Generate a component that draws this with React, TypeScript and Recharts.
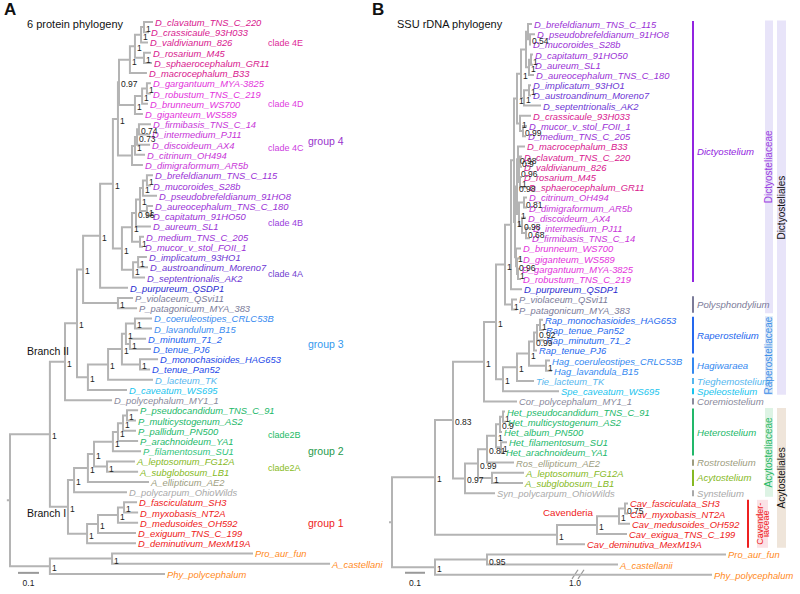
import React from "react";
import {
  ComposedChart,
  XAxis,
  YAxis,
  Line,
  Scatter,
  ReferenceLine,
  ReferenceArea,
} from "recharts";

const FONT = '"Liberation Sans", Arial, Helvetica, sans-serif';
const BRANCH = "#b4b4b4";

type Ref = number | string;
// [node id, upper child, lower child, depth (subst./site), support]
type NodeRow = [string, Ref, Ref, number, string];

// ---------- panel A : 6 protein phylogeny ----------
const leftNames = [
  "D_clavatum_TNS_C_220", "D_crassicaule_93H033", "D_valdivianum_826", "D_rosarium_M45",
  "D_sphaerocephalum_GR11", "D_macrocephalum_B33", "D_gargantuum_MYA-3825", "D_robustum_TNS_C_219",
  "D_brunneum_WS700", "D_giganteum_WS589", "D_firmibasis_TNS_C_14", "D_intermedium_PJ11",
  "D_discoideum_AX4", "D_citrinum_OH494", "D_dimigraformum_AR5b", "D_brefeldianum_TNS_C_115",
  "D_mucoroides_S28b", "D_pseudobrefeldianum_91HO8", "D_aureocephalum_TNS_C_180", "D_capitatum_91HO50",
  "D_aureum_SL1", "D_medium_TNS_C_205", "D_mucor_v_stol_FOII_1", "D_implicatum_93HO1",
  "D_austroandinum_Moreno7", "D_septentrionalis_AK2", "D_purpureum_QSDP1", "P_violaceum_QSvi11",
  "P_patagonicum_MYA_383", "D_coeruleostipes_CRLC53B", "D_lavandulum_B15", "D_minutum_71_2",
  "D_tenue_PJ6", "D_monochasioides_HAG653", "D_tenue_Pan52", "D_lacteum_TK",
  "D_caveatum_WS695", "D_polycephalum_MY1_1", "P_pseudocandidum_TNS_C_91", "P_multicystogenum_AS2",
  "P_pallidum_PN500", "P_arachnoideum_YA1", "P_filamentosum_SU1", "A_leptosomum_FG12A",
  "A_subglobosum_LB1", "A_ellipticum_AE2", "D_polycarpum_OhioWilds", "D_fasciculatum_SH3",
  "D_myxobasis_NT2A", "D_medusoides_OH592", "D_exiguum_TNS_C_199", "D_deminutivum_MexM19A",
  "Pro_aur_fun", "A_castellani", "Phy_polycephalum",
];
const leftGroups = [
  "4E", "4E", "4E", "4E", "4E", "4E", "4D", "4D", "4D", "4D",
  "4C", "4C", "4C", "4C", "4C", "4B", "4B", "4B", "4B", "4B",
  "4B", "4B", "4B", "4A", "4A", "4A", "pur", "poly", "poly", "g3a",
  "g3a", "g3b", "g3b", "g3c", "g3c", "lac", "cav", "cor", "2B", "2B",
  "2B", "2B", "fil", "2A", "2A", "ell", "syn", "g1", "g1", "g1",
  "g1", "g1", "out", "out", "out",
];
const leftTips = [
  0.681, 0.662, 0.657, 0.671, 0.676, 0.652, 0.671, 0.671, 0.657, 0.633,
  0.671, 0.667, 0.667, 0.643, 0.633, 0.681, 0.671, 0.7, 0.681, 0.671,
  0.671, 0.638, 0.633, 0.652, 0.657, 0.643, 0.562, 0.586, 0.605, 0.676,
  0.676, 0.648, 0.671, 0.705, 0.667, 0.681, 0.557, 0.486, 0.61, 0.6,
  0.6, 0.61, 0.624, 0.595, 0.61, 0.662, 0.557, 0.605, 0.61, 0.61,
  0.6, 0.6, 1.157, 1.524, 0.738,
];
const leftNodes: NodeRow[] = [
  ["L1", 0, 1, 0.638, "1"], ["L2", "L1", 2, 0.624, "1"], ["L3", 3, 4, 0.638, "1"],
  ["L4", "L2", "L3", 0.595, "1"], ["L5", "L4", 5, 0.571, "1"], ["L6", 6, 7, 0.652, "1"],
  ["L7", "L6", 8, 0.629, "1"], ["L8", "L7", 9, 0.595, "1"], ["L9", "L5", "L8", 0.519, "0.97"],
  ["L10", 10, 11, 0.614, "0.74"], ["L11", "L10", 12, 0.605, "0.73"], ["L12", "L11", 13, 0.595, "1"],
  ["L13", "L12", 14, 0.581, ""], ["L14", "L9", "L13", 0.514, "1"], ["L15", 15, 16, 0.652, "1"],
  ["L16", "L15", 17, 0.633, "1"], ["L17", 18, 19, 0.652, "1"], ["L18", "L16", "L17", 0.619, "1"],
  ["L19", "L18", 20, 0.6, "0.96"], ["L20", 21, 22, 0.619, "1"], ["L21", "L19", "L20", 0.581, "1"],
  ["L22", 23, 24, 0.61, "1"], ["L23", "L22", 25, 0.586, "1"], ["L24", "L21", "L23", 0.533, "1"],
  ["L25", "L14", "L24", 0.49, "1"], ["L26", "L25", 26, 0.429, "1"], ["L27", 27, 28, 0.514, "1"],
  ["L28", "L26", "L27", 0.348, "1"], ["L29", 29, 30, 0.595, "1"], ["L30", 31, 32, 0.571, "1"],
  ["L31", "L29", "L30", 0.552, "1"], ["L32", 33, 34, 0.619, "1"], ["L33", "L31", "L32", 0.533, "1"],
  ["L34", "L33", 35, 0.467, "1"], ["L35", "L34", 36, 0.371, "1"], ["L36", "L28", "L35", 0.319, "1"],
  ["L37", "L36", 37, 0.262, "1"], ["L38", 38, 39, 0.557, "1"], ["L39", "L38", 40, 0.538, "1"],
  ["L40", "L39", 41, 0.514, "1"], ["L41", "L40", 42, 0.49, "1"], ["L42", 43, 44, 0.462, "1"],
  ["L43", "L41", "L42", 0.4, "1"], ["L44", "L43", 45, 0.371, "1"], ["L45", "L44", 46, 0.305, "1"],
  ["L46", 47, 48, 0.543, "1"], ["L47", "L46", 49, 0.514, "1"], ["L48", "L47", 50, 0.419, "1"],
  ["L49", "L48", 51, 0.367, "1"], ["L50", "L45", "L49", 0.276, "1"], ["L51", "L37", "L50", 0.19, "1"],
  ["L52", 52, 53, 0.486, "1"], ["L53", "L52", 54, 0.19, "1"], ["root", "L51", "L53", 0, ""],
];
// [text, depth, row, style]
const leftNotes: [string, number, number, string][] = [
  ["clade 4E", 1.229, 2.05, "c4E"], ["clade 4D", 1.229, 8.0, "c4D"], ["group 4", 1.419, 11.6, "grp4"],
  ["clade 4C", 1.229, 12.3, "c4C"], ["clade 4B", 1.229, 19.7, "c4B"], ["clade 4A", 1.229, 24.7, "c4A"],
  ["group 3", 1.419, 31.5, "grp3"], ["clade2B", 1.229, 40.4, "c2B"], ["group 2", 1.419, 42.0, "grp2"],
  ["clade2A", 1.229, 43.6, "c2A"], ["group 1", 1.419, 49.0, "grp1"],
  ["Branch II", 0.081, 32.2, "branch"], ["Branch I", 0.081, 48.0, "branch"],
];
const leftScaleBar = [0.038, 0.1, 53.9];

// ---------- panel B : SSU rDNA phylogeny ----------
const rightNames = [
  "D_brefeldianum_TNS_C_115", "D_pseudobrefeldianum_91HO8", "D_mucoroides_S28b", "D_capitatum_91HO50",
  "D_aureum_SL1", "D_aureocephalum_TNS_C_180", "D_implicatum_93HO1", "D_austroandinum_Moreno7",
  "D_septentrionalis_AK2", "D_crassicaule_93H033", "D_mucor_v_stol_FOII_1", "D_medium_TNS_C_205",
  "D_macrocephalum_B33", "D_clavatum_TNS_C_220", "D_valdivianum_826", "D_rosarium_M45",
  "D_sphaerocephalum_GR11", "D_citrinum_OH494", "D_dimigraformum_AR5b", "D_discoideum_AX4",
  "D_intermedium_PJ11", "D_firmibasis_TNS_C_14", "D_brunneum_WS700", "D_giganteum_WS589",
  "D_gargantuum_MYA-3825", "D_robustum_TNS_C_219", "D_purpureum_QSDP1", "P_violaceum_QSvi11",
  "P_patagonicum_MYA_383", "Rap_monochasioides_HAG653", "Rap_tenue_Pan52", "Rap_minutum_71_2",
  "Rap_tenue_PJ6", "Hag_coeruleostipes_CRLC53B", "Hag_lavandula_B15", "Tie_lacteum_TK",
  "Spe_caveatum_WS695", "Cor_polycephalum_MY1_1", "Het_pseudocandidum_TNS_C_91", "Het_multicystogenum_AS2",
  "Het_album_PN500", "Het_filamentosum_SU1", "Het_arachnoideum_YA1", "Ros_ellipticum_AE2",
  "A_leptosomum_FG12A", "A_subglobosum_LB1", "Syn_polycarpum_OhioWilds", "Cav_fasciculata_SH3",
  "Cav_myxobasis_NT2A", "Cav_medusoides_OH592", "Cav_exigua_TNS_C_199", "Cav_deminutiva_MexM19A",
  "Pro_aur_fun", "A_castellanii", "Phy_polycephalum",
];
const rightGroups = [
  "4B", "4B", "4B", "4B", "4B", "4B", "4A", "4A", "4A", "4E",
  "4B", "4B", "4E", "4E", "4E", "4E", "4E", "4C", "4C", "4C",
  "4C", "4C", "4D", "4D", "4D", "4D", "pur", "poly", "poly", "rap",
  "rap", "rap", "rap", "hag", "hag", "lac", "cav", "cor", "2B", "2B",
  "2B", "2B", "2B", "ell", "2A", "2A", "syn", "g1", "g1", "g1",
  "g1", "g1", "out", "out", "out",
];
const rightTips = [
  0.7, 0.715, 0.695, 0.705, 0.705, 0.71, 0.695, 0.695, 0.745, 0.695,
  0.675, 0.67, 0.665, 0.65, 0.65, 0.65, 0.675, 0.675, 0.675, 0.67,
  0.695, 0.69, 0.645, 0.645, 0.64, 0.645, 0.65, 0.625, 0.625, 0.755,
  0.76, 0.76, 0.725, 0.79, 0.8, 0.71, 0.835, 0.625, 0.565, 0.57,
  0.55, 0.575, 0.56, 0.61, 0.66, 0.655, 0.515, 1.18, 1.18, 1.19,
  1.175, 0.965, 1.67, 1.13, 1.6,
];
const rightNodes: NodeRow[] = [
  ["a1", 1, 2, 0.69, "0.54"], ["a2", 0, "a1", 0.68, ""], ["a3", 3, 4, 0.695, "1"],
  ["a5", "a3", 5, 0.685, "1"], ["a4", "a2", "a5", 0.67, ""], ["a6", 6, 7, 0.685, "1"],
  ["a7", "a6", 8, 0.66, "1"], ["a8", "a4", "a7", 0.645, "1"], ["a9", 10, 11, 0.655, "0.99"],
  ["a10", 9, "a9", 0.64, "1"], ["a11", "a8", "a10", 0.625, "1"], ["b1", 13, 14, 0.64, "0.9"],
  ["b2", 15, 16, 0.64, "1"], ["b3", "b1", "b2", 0.635, "0.96"], ["b4", 12, "b3", 0.63, "0.98"],
  ["c1", 17, 18, 0.66, "0.81"], ["c2", 20, 21, 0.67, "0.68"], ["c3", 19, "c2", 0.65, "0.98"],
  ["c4", "c1", "c3", 0.635, "1"], ["e1", "b4", "c4", 0.625, "0.98"], ["d1", 24, 25, 0.63, "1"],
  ["d2", 23, "d1", 0.625, "0.96"], ["d3", 22, "d2", 0.62, "1"], ["e2", "e1", "d3", 0.615, "1"],
  ["e3", "a11", "e2", 0.61, ""], ["e4", "e3", 26, 0.595, ""], ["p1", 27, 28, 0.6, "1"],
  ["e5", "e4", "p1", 0.565, "1"], ["ra1", 29, 30, 0.74, "1"], ["ra2", "ra1", 31, 0.725, "0.92"],
  ["ra3", "ra2", 32, 0.71, "0.99"], ["hag", 33, 34, 0.77, "1"], ["ra4", "ra3", "hag", 0.685, "1"],
  ["ra5", "ra4", 35, 0.625, "1"], ["ra6", "ra5", 36, 0.555, "1"], ["D6", "e5", "ra6", 0.52, "1"],
  ["D7", "D6", 37, 0.46, "1"], ["h1", 38, 39, 0.555, "1"], ["h2", "h1", 40, 0.54, "0.9"],
  ["h3", 41, 42, 0.545, "1"], ["h4", "h2", "h3", 0.52, "1"], ["h5", "h4", 43, 0.475, "0.81"],
  ["h6", 44, 45, 0.5, "1"], ["h7", "h5", "h6", 0.43, "0.99"], ["h8", "h7", 46, 0.365, "0.97"],
  ["D8", "D7", "h8", 0.305, "0.83"], ["cv1", 47, 48, 1.165, "0.75"], ["cv2", "cv1", 49, 1.135, "1"],
  ["cv3", "cv2", 50, 1.025, "1"], ["cv4", "cv3", 51, 0.825, "1"], ["D9", "D8", "cv4", 0.215, "1"],
  ["o1", 52, 53, 0.475, "0.95"], ["o2", "o1", 54, 0.215, "1"], ["root", "D9", "o2", 0, ""],
];
// [genus, first row, last row, style]
const genera: [string, number, number, string][] = [
  ["Dictyostelium", 0, 25, "dic"], ["Polysphondylium", 27, 28, "poly"], ["Raperostelium", 29, 32, "rap"],
  ["Hagiwaraea", 33, 34, "hag"], ["Tieghemostelium", 35, 35, "lac"], ["Speleostelium", 36, 36, "cav"],
  ["Coremiostelium", 37, 37, "cor"], ["Heterostelium", 38, 42, "2B"], ["Rostrostelium", 43, 43, "ell"],
  ["Acytostelium", 44, 45, "2A"], ["Synstelium", 46, 46, "syn"],
];
const families: [string, number, number, string][] = [
  ["Dictyosteliaceae", 0, 28, "dicF"], ["Raperosteliaceae", 29, 36, "rapF"], ["Acytosteliaceae", 38, 46, "acyF"],
];
const cavFamily: [string[], number, number] = [["Cavender-", "iaceae"], 47, 51];
const orders: [string, number, number, string][] = [
  ["Dictyosteliales", 0, 36, "dicO"], ["Acytosteliales", 38, 51, "acyO"],
];
const rightNotes: [string, number, number, string][] = [
  ["Cavenderia", 1.005, 47.9, "cavLabel"], ["1.0", 0.915, 54.85, "brk"],
];
const rightScaleBar = [0.065, 0.1, 53.8];
const phyBreak = [0.925, 54];

// ---------- styling ----------
const leafColor: Record<string, string> = {
  "4E": "#d8178e", "4D": "#e332dc", "4C": "#c835d8", "4B": "#9a30d6", "4A": "#6d36d4",
  pur: "#2a2bd0", poly: "#7b7b99", g3a: "#3a8cf0", g3b: "#2463ee", g3c: "#1c47e8",
  rap: "#2468ee", hag: "#3388f0", lac: "#55b6ee", cav: "#19c4ee", cor: "#8a8a9c",
  "2B": "#22b86a", fil: "#2fc47c", "2A": "#86b923", ell: "#9d9d80", syn: "#a9a9a9",
  g1: "#ee2020", out: "#ff8a1c", dic: "#9224e0",
};
const noteStyle: Record<string, { color: string; size: number; anchor: string }> = {
  c4E: { color: "#dd2a98", size: 9, anchor: "start" },
  c4D: { color: "#e040e0", size: 9, anchor: "start" },
  c4C: { color: "#cc40e0", size: 9, anchor: "start" },
  c4B: { color: "#9a40dd", size: 9, anchor: "start" },
  c4A: { color: "#7040d0", size: 9, anchor: "start" },
  c2B: { color: "#22bb66", size: 9, anchor: "start" },
  c2A: { color: "#88bb22", size: 9, anchor: "start" },
  grp4: { color: "#9933cc", size: 10.5, anchor: "start" },
  grp3: { color: "#3399ee", size: 10.5, anchor: "start" },
  grp2: { color: "#1f9a4c", size: 10.5, anchor: "start" },
  grp1: { color: "#ee2222", size: 10.5, anchor: "start" },
  branch: { color: "#111", size: 10.5, anchor: "start" },
  cavLabel: { color: "#ee2222", size: 9.8, anchor: "end" },
  brk: { color: "#222", size: 8.5, anchor: "middle" },
};
const boxStyle: Record<string, { fill: string; text: string }> = {
  dicF: { fill: "#e8e4f9", text: "#9b3fe0" },
  rapF: { fill: "#dde9f7", text: "#3d8fe8" },
  acyF: { fill: "#ddf3e4", text: "#2bb866" },
  dicO: { fill: "#e8e4f9", text: "#111" },
  acyO: { fill: "#efe5da", text: "#111" },
};

function buildTree(tips: number[], nodes: NodeRow[]) {
  const pos: Record<string, { x: number; y: number }> = {};
  const at = (r: Ref) => (typeof r === "number" ? { x: tips[r], y: r } : pos[r]);
  const branches: { x: number; y: number | null }[] = [];
  const support: { x: number; y: number; text: string }[] = [];
  for (const [id, a, b, depth, s] of nodes) {
    const p = at(a);
    const q = at(b);
    const y = (p.y + q.y) / 2;
    pos[id] = { x: depth, y };
    branches.push(
      { x: p.x, y: p.y },
      { x: depth, y: p.y },
      { x: depth, y: q.y },
      { x: q.x, y: q.y },
      { x: q.x, y: null }
    );
    if (s) support.push({ x: depth, y, text: s });
  }
  const root = pos.root;
  branches.push({ x: root.x - 0.015, y: root.y }, { x: root.x, y: root.y });
  return { branches, support };
}

const leafShape = (p: any) => (
  <text
    x={p.cx + 2}
    y={p.cy + 0.5}
    fontFamily={FONT}
    fontSize={9.4}
    fontStyle="italic"
    fill={p.payload.color}
    dominantBaseline="central"
  >
    {p.payload.name}
  </text>
);

const supportShape = (p: any) => (
  <text x={p.cx + 2} y={p.cy + 2} fontFamily={FONT} fontSize={8.5} fill="#222" dominantBaseline="central">
    {p.payload.text}
  </text>
);

const noteShape = (p: any) => {
  const s = p.payload.style;
  return (
    <text
      x={p.cx}
      y={p.cy}
      fontFamily={FONT}
      fontSize={s.size}
      fontStyle={s.italic ? "italic" : "normal"}
      fill={s.color}
      textAnchor={s.anchor}
      dominantBaseline="central"
    >
      {p.payload.text}
    </text>
  );
};

const rotatedShape = (p: any) => (
  <text
    x={p.cx}
    y={p.cy}
    transform={`rotate(-90 ${p.cx} ${p.cy})`}
    fontFamily={FONT}
    fontSize={p.payload.size}
    fill={p.payload.color}
    textAnchor="middle"
    dominantBaseline="central"
  >
    {p.payload.text}
  </text>
);

const TreePanel = ({
  names,
  groups,
  tips,
  nodes,
  xDomain,
  yDomain,
  width,
  scaleBar,
  children,
  notes,
}: any) => {
  const tree = buildTree(tips, nodes);
  const leaves = tips.map((x: number, i: number) => ({
    x,
    y: i,
    name: names[i],
    color: leafColor[groups[i]],
  }));
  const noteData = notes.map(([text, x, y, st]: any) => ({ x, y, text, style: noteStyle[st] }));
  const [sb0, sbLen, sbRow] = scaleBar;
  return (
    <ComposedChart width={width} height={594} margin={{ top: 0, right: 0, bottom: 0, left: 0 }}>
      <XAxis type="number" dataKey="x" domain={xDomain} hide allowDataOverflow />
      <YAxis type="number" dataKey="y" domain={yDomain} reversed hide allowDataOverflow />
      {children}
      <Line
        data={tree.branches}
        dataKey="y"
        type="linear"
        stroke={BRANCH}
        strokeWidth={2}
        dot={false}
        activeDot={false}
        connectNulls={false}
        isAnimationActive={false}
      />
      <ReferenceLine
        segment={[
          { x: sb0, y: sbRow },
          { x: sb0 + sbLen, y: sbRow },
        ]}
        stroke="#999"
        strokeWidth={2}
        ifOverflow="visible"
      />
      <Scatter data={leaves} shape={leafShape} isAnimationActive={false} />
      <Scatter data={tree.support} shape={supportShape} isAnimationActive={false} />
      <Scatter
        data={[...noteData, { x: sb0 + sbLen / 2, y: sbRow + 1, text: String(sbLen), style: noteStyle.brk }]}
        shape={noteShape}
        isAnimationActive={false}
      />
    </ComposedChart>
  );
};

const rightExtras = () => {
  const barX = 1.505;
  const famX: [number, number] = [1.865, 1.905];
  const ordX: [number, number] = [1.925, 1.97];
  const cavX: [number, number] = [1.825, 1.88];
  const out: any[] = [];
  orders.forEach(([name, a, b, st]) =>
    out.push(
      <ReferenceArea key={"o" + name} x1={ordX[0]} x2={ordX[1]} y1={a - 0.35} y2={b + 0.35}
        fill={boxStyle[st].fill} fillOpacity={1} stroke="none" ifOverflow="visible" />
    )
  );
  families.forEach(([name, a, b, st]) =>
    out.push(
      <ReferenceArea key={"f" + name} x1={famX[0]} x2={famX[1]} y1={a - 0.35} y2={b + 0.35}
        fill={boxStyle[st].fill} fillOpacity={1} stroke="none" ifOverflow="visible" />
    )
  );
  out.push(
    <ReferenceArea key="cavbox" x1={cavX[0]} x2={cavX[1]} y1={cavFamily[1] - 0.35} y2={cavFamily[2] + 0.35}
      fill="#fbe2e6" fillOpacity={1} stroke="none" ifOverflow="visible" />,
    <ReferenceLine key="cavbar" segment={[{ x: 1.78, y: cavFamily[1] - 0.35 }, { x: 1.78, y: cavFamily[2] + 0.35 }]}
      stroke="#ee2020" strokeWidth={2} ifOverflow="visible" />
  );
  genera.forEach(([name, a, b, st]) =>
    out.push(
      <ReferenceLine key={"g" + name} segment={[{ x: barX, y: a - 0.3 }, { x: barX, y: b + 0.3 }]}
        stroke={leafColor[st]} strokeWidth={2} ifOverflow="visible" />
    )
  );
  // broken branch of Phy_polycephalum
  const [bx, by] = phyBreak;
  out.push(
    <ReferenceLine key="gap" segment={[{ x: bx - 0.012, y: by }, { x: bx + 0.025, y: by }]}
      stroke="#fff" strokeWidth={3} ifOverflow="visible" />,
    <ReferenceLine key="s1" segment={[{ x: bx - 0.025, y: by + 0.4 }, { x: bx + 0.005, y: by - 0.5 }]}
      stroke="#999" strokeWidth={1.2} ifOverflow="visible" />,
    <ReferenceLine key="s2" segment={[{ x: bx + 0.005, y: by + 0.4 }, { x: bx + 0.035, y: by - 0.5 }]}
      stroke="#999" strokeWidth={1.2} ifOverflow="visible" />
  );
  const genusText = genera.map(([name, a, b, st]) => ({
    x: 1.525, y: (a + b) / 2, text: name,
    style: { color: leafColor[st], size: 9.6, anchor: "start", italic: true },
  }));
  const rot: any[] = [];
  families.forEach(([name, a, b, st]) =>
    rot.push({ x: (famX[0] + famX[1]) / 2, y: (a + b) / 2, text: name, color: boxStyle[st].text, size: 10 })
  );
  orders.forEach(([name, a, b, st]) =>
    rot.push({ x: (ordX[0] + ordX[1]) / 2, y: (a + b) / 2, text: name, color: boxStyle[st].text, size: 10 })
  );
  cavFamily[0].forEach((t, k) =>
    rot.push({ x: cavX[0] + 0.014 + k * 0.032, y: (cavFamily[1] + cavFamily[2]) / 2, text: t, color: "#ee2020", size: 9 })
  );
  out.push(
    <Scatter key="genusText" data={genusText} shape={noteShape} isAnimationActive={false} />,
    <Scatter key="rotText" data={rot} shape={rotatedShape} isAnimationActive={false} />
  );
  return out;
};

export default function App() {
  const title = { position: "absolute" as const, fontFamily: FONT, color: "#111", lineHeight: 1 };
  return (
    <div style={{ position: "absolute", left: 0, top: 0, width: 800, height: 594, background: "#fff", overflow: "hidden" }}>
      <div style={{ position: "absolute", left: 0, top: 0 }}>
        <TreePanel
          names={leftNames}
          groups={leftGroups}
          tips={leftTips}
          nodes={leftNodes}
          xDomain={[-0.0476, 1.857]}
          yDomain={[-2.153, 55.968]}
          width={400}
          scaleBar={leftScaleBar}
          notes={leftNotes}
        />
      </div>
      <div style={{ position: "absolute", left: 360, top: 0 }}>
        <TreePanel
          names={rightNames}
          groups={rightGroups}
          tips={rightTips}
          nodes={rightNodes}
          xDomain={[-0.16, 2.04]}
          yDomain={[-2.353, 55.882]}
          width={440}
          scaleBar={rightScaleBar}
          notes={rightNotes}
        >
          {rightExtras()}
        </TreePanel>
      </div>
      <div style={{ ...title, left: 4, top: 1, fontSize: 17, fontWeight: "bold" }}>A</div>
      <div style={{ ...title, left: 27, top: 19, fontSize: 11 }}>6 protein phylogeny</div>
      <div style={{ ...title, left: 372, top: 1, fontSize: 17, fontWeight: "bold" }}>B</div>
      <div style={{ ...title, left: 397, top: 19, fontSize: 11 }}>SSU rDNA phylogeny</div>
    </div>
  );
}
